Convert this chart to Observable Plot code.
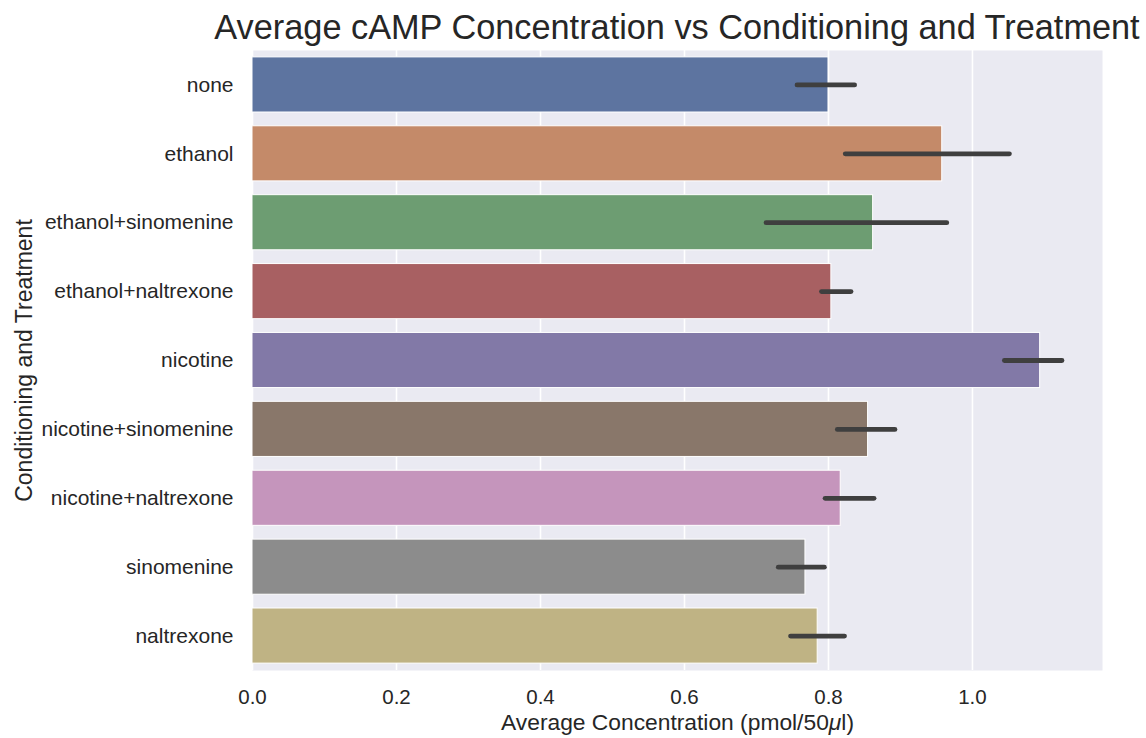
<!DOCTYPE html>
<html><head><meta charset="utf-8">
<script src="https://cdn.jsdelivr.net/npm/d3@7"></script>
<script src="https://cdn.jsdelivr.net/npm/@observablehq/plot@0.6"></script>
<style>
html,body{margin:0;padding:0;background:#fff;overflow:hidden;}
#wrap{width:1146px;height:738px;font-family:"Liberation Sans",Arial,sans-serif;color:#262626;}
#title{margin-left:208px;width:938px;height:48px;box-sizing:border-box;padding-top:7px;line-height:40px;font-size:34.3px;text-align:center;white-space:nowrap;}
</style></head>
<body><div id="wrap"><div id="title">Average cAMP Concentration vs Conditioning and Treatment</div><div id="chart"></div></div>
<script>
const categories = ["none","ethanol","ethanol+sinomenine","ethanol+naltrexone","nicotine","nicotine+sinomenine","nicotine+naltrexone","sinomenine","naltrexone"];
const means  = [0.800,0.958,0.862,0.804,1.094,0.855,0.817,0.768,0.785];
const ciLow  = [0.757,0.824,0.714,0.791,1.045,0.813,0.796,0.731,0.748];
const ciHigh = [0.837,1.052,0.965,0.832,1.125,0.893,0.864,0.795,0.823];
const colors = ["#5d74a0","#c48a69","#6d9d72","#a86062","#8279a7","#89776a","#c595bc","#8c8c8c","#bfb384"];
const xTicks = [0,0.2,0.4,0.6,0.8,1.0];
const xLabel = "Average Concentration (pmol/50μl)";
const yLabel = "Conditioning and Treatment";

const rows = categories.map((c,i)=>({cat:c, mean:means[i], lo:ciLow[i], hi:ciHigh[i]}));

const chart = Plot.plot({
  width: 1146, height: 690,
  marginTop: 2, marginBottom: 68, marginLeft: 252, marginRight: 44,
  style: {fontFamily: '"Liberation Sans", Arial, sans-serif', color: "#262626", background: "white"},
  x: {domain: [0, 1.1806]},
  y: {domain: categories, paddingInner: 0.2, paddingOuter: 0.1, round: false},
  color: {domain: categories, range: colors},
  marks: [
    Plot.frame({fill: "#eaeaf2", stroke: "none"}),
    Plot.gridX(xTicks, {stroke: "white", strokeOpacity: 1, strokeWidth: 1.6}),
    Plot.barX(rows, {x: "mean", y: "cat", fill: "cat", stroke: "white", strokeWidth: 1}),
    Plot.ruleY(rows, {y: "cat", x1: "lo", x2: "hi", stroke: "#3f3f3f", strokeWidth: 4.8, strokeLinecap: "round"}),
    Plot.axisX({ticks: xTicks, tickSize: 0, tickPadding: 19, tickFormat: d3.format(".1f"), label: null, fontSize: 20.5}),
    Plot.axisY({tickSize: 0, tickPadding: 19, label: null, fontSize: 21}),
    Plot.text([xLabel], {text: d => d, frameAnchor: "bottom", textAnchor: "middle", lineAnchor: "middle", dy: 52, fontSize: 22.8}),
    Plot.text([yLabel], {text: d => d, frameAnchor: "left", textAnchor: "middle", lineAnchor: "middle", dx: -228, rotate: -90, fontSize: 23})
  ]
});
document.getElementById("chart").appendChild(chart);

// italic mu as in the original mathtext label
chart.querySelectorAll("text").forEach(el => {
  if (el.textContent === xLabel) {
    const parts = xLabel.split("μ");
    el.textContent = "";
    const ns = "http://www.w3.org/2000/svg";
    const t1 = document.createElementNS(ns, "tspan"); t1.textContent = parts[0];
    const t2 = document.createElementNS(ns, "tspan"); t2.textContent = "μ"; t2.setAttribute("font-style", "italic");
    const t3 = document.createElementNS(ns, "tspan"); t3.textContent = parts[1];
    el.append(t1, t2, t3);
  }
});
</script></body></html>
